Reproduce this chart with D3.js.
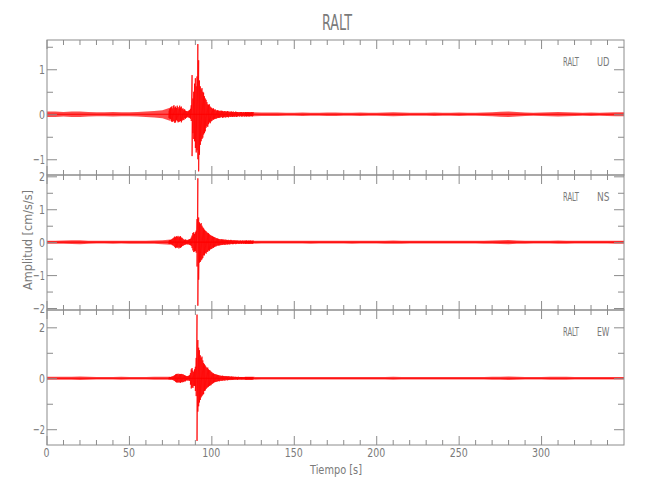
<!DOCTYPE html>
<html><head><meta charset="utf-8">
<script src="https://cdn.jsdelivr.net/npm/d3@7"></script>
<style>body{margin:0;background:#fff}svg{display:block}</style>
</head><body><svg id="c" width="650" height="500"></svg>
<script>
// ---------- data ----------
const title = "RALT";
const station = "RALT";
const components = ["UD", "NS", "EW"];
const xLabel = "Tiempo [s]";
const yLabel = "Amplitud [cm/s/s]";
const xDomain = [0, 350];
const xMajor = [0, 50, 100, 150, 200, 250, 300];
const xMinor = [10,20,30,40,60,70,80,90,110,120,130,140,160,170,180,190,210,220,230,240,260,270,280,290,310,320,330,340];
const yDomains = [[-1.35, 1.65], [-2.06, 2.04], [-2.62, 2.68]];
const yMajor = [[-1, 0, 1], [-2, -1, 0, 1, 2], [-2, 0, 2]];
const yMinor = [[-0.5, 0.5, 1.5], [-1.5, -0.5, 0.5, 1.5], [-1, 1]];

// background noise envelope (half-amplitude) every 5 s, t = 0..350
const baseT = d3.range(0, 351, 5);
const udBase = [.06,.06,.05,.06,.06,.05,.045,.045,.05,.045, .045,.05,.06,.07,.09,.15,.15,.07,.50,.40,
                .14,.08,.06,.05,.045,.045,.04,.04,.04,.035, .035,.04,.035,.035,.04,.04,.035,.035,.04,.035,
                .035,.04,.045,.04,.035,.035,.035,.04,.035,.035, .04,.035,.035,.04,.045,.055,.06,.05,.04,.035,
                .04,.045,.05,.045,.04,.035,.04,.035,.04,.045, .045];
const nsBase = [.045,.045,.05,.055,.06,.045,.04,.04,.045,.04, .045,.045,.045,.05,.06,.08,.17,.07,.30,.40,
                .19,.09,.07,.06,.05,.045,.04,.04,.04,.04, .04,.04,.045,.04,.04,.04,.04,.045,.04,.04,
                .04,.045,.05,.045,.04,.04,.04,.04,.04,.04, .04,.04,.04,.045,.05,.055,.065,.05,.045,.04,
                .04,.04,.05,.045,.04,.04,.04,.04,.04,.045, .045];
const ewBase = [.055,.055,.055,.055,.07,.055,.05,.05,.05,.055, .05,.05,.05,.055,.055,.06,.16,.08,.50,.60,
                .24,.10,.07,.06,.055,.055,.05,.05,.05,.05, .05,.05,.05,.05,.05,.05,.05,.05,.05,.05,
                .05,.05,.055,.05,.05,.05,.05,.05,.05,.05, .05,.05,.05,.05,.055,.06,.07,.06,.05,.05,
                .05,.055,.06,.055,.05,.05,.05,.05,.05,.05, .05];

// event detail: peak (hi) and trough (lo) every 0.5 s, t = 74..125
const detT = d3.range(74, 125.001, 0.5);
const udHi = [.08,.12,.15,.17,.13,.18,.20,.15,.17,.14, .19,.16,.13,.19,.15,.17,.12,.13,.10,.11,
              .08,.07,.07,.06,.08,.09,.12,.20,.87,.35, .50,.68,.80,.62,.84,1.56,1.20,.75,.62,.55,
              .58,.50,.48,.40,.35,.32,.27,.22,.21,.22, .17,.15,.14,.12,.13,.10,.11,.09,.08,.09,
              .08,.07,.08,
              .07,.08,.07,.06,.07,.07,.06,.06,.07,.06, .06,.05,.06,.06,.05,.06,.05,.05,.06,.05,
              .05,.05,.04,.05,.05,.05,.04,.05,.05,.04, .05,.04,.05,.04,.05,.04,.04,.05,.04,.05];
const udLo = [-.08,-.10,-.11,-.16,-.17,-.15,-.16,-.19,-.18,-.13, -.15,-.18,-.17,-.16,-.15,-.18,-.14,-.12,-.13,-.09,
              -.10,-.08,-.06,-.07,-.07,-.08,-.10,-.15,-.93,-.42, -.55,-.60,-.75,-.85,-.80,-1.00,-1.27,-.90,-.68,-.60,
              -.55,-.52,-.45,-.42,-.38,-.30,-.26,-.28,-.22,-.18, -.20,-.16,-.15,-.12,-.12,-.11,-.10,-.10,-.09,-.08,
              -.08,-.08,-.07,
              -.07,-.06,-.08,-.07,-.06,-.07,-.07,-.06,-.06,-.07, -.05,-.06,-.06,-.05,-.06,-.05,-.06,-.05,-.05,-.06,
              -.05,-.04,-.05,-.05,-.04,-.05,-.05,-.04,-.05,-.05, -.04,-.05,-.04,-.05,-.04,-.05,-.04,-.04,-.05,-.04];
const nsHi = [.05,.06,.07,.08,.10,.12,.14,.17,.15,.18, .16,.19,.15,.17,.18,.14,.13,.10,.08,.07,
              .08,.07,.06,.07,.08,.09,.10,.14,.20,.28, .30,.25,.30,.35,.70,1.94,.75,.60,.55,.58,
              .50,.45,.42,.38,.35,.33,.30,.28,.27,.24, .22,.20,.19,.18,.16,.15,.14,.12,.12,.11,
              .10,.09,.09,
              .08,.09,.08,.08,.07,.08,.07,.07,.06,.07, .06,.06,.07,.06,.05,.06,.05,.06,.05,.05,
              .05,.05,.04,.05,.05,.04,.05,.05,.04,.05, .04,.05,.04,.04,.05,.04,.05,.04,.04,.05];
const nsLo = [-.05,-.05,-.06,-.07,-.09,-.10,-.12,-.15,-.18,-.16, -.17,-.15,-.19,-.16,-.17,-.15,-.12,-.11,-.09,-.08,
              -.07,-.06,-.07,-.06,-.07,-.08,-.09,-.12,-.18,-.25, -.30,-.28,-.27,-.32,-.74,-1.93,-1.14,-.62,-.60,-.55,
              -.52,-.48,-.40,-.40,-.33,-.35,-.30,-.29,-.25,-.26, -.22,-.21,-.20,-.17,-.17,-.15,-.13,-.13,-.11,-.10,
              -.10,-.10,-.09,
              -.09,-.08,-.08,-.07,-.08,-.07,-.08,-.06,-.07,-.06, -.07,-.06,-.06,-.05,-.06,-.06,-.05,-.05,-.06,-.05,
              -.04,-.05,-.05,-.05,-.04,-.05,-.04,-.05,-.05,-.04, -.05,-.04,-.04,-.05,-.04,-.05,-.04,-.04,-.05,-.04];
const ewHi = [.04,.05,.05,.06,.07,.08,.10,.12,.15,.17, .16,.18,.15,.17,.16,.17,.15,.16,.13,.12,
              .10,.09,.08,.09,.10,.12,.20,.35,.40,.30, .25,.35,.45,.80,2.50,1.50,1.20,1.10,.90,.80,
              .85,.70,.60,.55,.50,.45,.40,.42,.35,.32, .30,.26,.24,.20,.19,.17,.16,.15,.14,.13,
              .12,.11,.10,
              .10,.09,.10,.09,.08,.09,.08,.08,.07,.08, .07,.07,.06,.07,.06,.06,.06,.05,.06,.05,
              .05,.06,.05,.05,.05,.05,.05,.05,.05,.05, .05,.05,.05,.05,.05,.05,.05,.05,.05,.05];
const ewLo = [-.04,-.04,-.05,-.05,-.06,-.07,-.09,-.11,-.14,-.16, -.17,-.15,-.17,-.16,-.18,-.15,-.16,-.14,-.15,-.11,
              -.12,-.08,-.09,-.08,-.09,-.10,-.25,-.40,-.35,-.38, -.30,-.30,-.50,-.70,-2.46,-1.31,-1.10,-.95,-.85,-.75,
              -.70,-.65,-.62,-.50,-.48,-.42,-.38,-.35,-.33,-.30, -.28,-.27,-.22,-.21,-.18,-.16,-.15,-.14,-.13,-.12,
              -.11,-.12,-.10,
              -.09,-.10,-.09,-.08,-.09,-.08,-.08,-.07,-.08,-.07, -.07,-.06,-.07,-.06,-.06,-.06,-.05,-.06,-.05,-.05,
              -.06,-.05,-.05,-.05,-.05,-.05,-.05,-.05,-.05,-.05, -.05,-.05,-.05,-.05,-.05,-.05,-.05,-.05,-.05,-.05];

const traces = [
  {base: udBase, hi: udHi, lo: udLo},
  {base: nsBase, hi: nsHi, lo: nsLo},
  {base: ewBase, hi: ewHi, lo: ewLo}
];

// ---------- drawing ----------
const svg = d3.select("#c");
const L = 47, R = 624, T0 = 40, PH = 135;
const axisCol = "#8c8c8c", textCol = "#7a7a7a";
const FONT = "'Liberation Sans Narrow','DejaVu Sans Condensed','DejaVu Sans',sans-serif";
const x = d3.scaleLinear().domain(xDomain).range([L, R]);
const fmt = d3.format("d");
const labelW = s => s.length * 6;

svg.append("rect").attr("width", 650).attr("height", 500).attr("fill", "#fff");

traces.forEach((tr, i) => {
  const top = T0 + i * PH, bot = top + PH;
  const y = d3.scaleLinear().domain(yDomains[i]).range([bot, top]);
  const g = svg.append("g");

  // background noise band
  const band = d3.area()
    .defined((d, k) => baseT[k] <= 75 || baseT[k] >= 120)
    .x((d, k) => x(baseT[k]))
    .y0(d => y(-d)).y1(d => y(d));
  g.append("path").datum(tr.base).attr("d", band)
    .attr("fill", "#ff0000").attr("fill-opacity", 0.7);
  g.append("line").attr("x1", x(xDomain[0])).attr("x2", x(xDomain[1]))
    .attr("y1", y(0)).attr("y2", y(0)).attr("stroke", "#ff0000").attr("stroke-width", 1.2);

  // event detail: zigzag through peaks and troughs
  const pts = [];
  detT.forEach((t, k) => { pts.push([x(t), y(tr.hi[k])]); pts.push([x(t), y(tr.lo[k])]); });
  g.append("path").attr("d", d3.line()(pts))
    .attr("fill", "none").attr("stroke", "#ff0000").attr("stroke-width", 0.8);

  // frame
  svg.append("rect").attr("x", L).attr("y", top).attr("width", R - L).attr("height", PH)
    .attr("fill", "none").attr("stroke", axisCol).attr("stroke-width", 1);

  // x ticks top & bottom (inward)
  const xt = svg.append("g").attr("stroke", axisCol).attr("stroke-width", 1);
  [[xMajor, 9], [xMinor, 5]].forEach(([vals, len]) => {
    vals.forEach(v => {
      xt.append("line").attr("x1", x(v)).attr("x2", x(v)).attr("y1", top).attr("y2", top + len);
      xt.append("line").attr("x1", x(v)).attr("x2", x(v)).attr("y1", bot).attr("y2", bot - len);
    });
  });

  // y axis left (labels + inward ticks)
  const ax = svg.append("g").attr("transform", `translate(${L},0)`)
    .call(d3.axisLeft(y).tickValues(yMajor[i]).tickFormat(fmt).tickSizeInner(-10).tickSizeOuter(0).tickPadding(2));
  ax.select(".domain").remove();
  ax.selectAll("line").attr("stroke", axisCol);
  ax.selectAll("text").attr("fill", textCol).attr("font-family", FONT).attr("font-size", 13)
    .attr("textLength", d => labelW(fmt(d))).attr("lengthAdjust", "spacingAndGlyphs");
  const axm = svg.append("g").attr("transform", `translate(${L},0)`)
    .call(d3.axisLeft(y).tickValues(yMinor[i]).tickSizeInner(-6).tickSizeOuter(0).tickFormat(""));
  axm.select(".domain").remove();
  axm.selectAll("line").attr("stroke", axisCol);

  // right side inward ticks
  const rt = svg.append("g").attr("transform", `translate(${R},0)`)
    .call(d3.axisRight(y).tickValues(yMajor[i]).tickSizeInner(-10).tickSizeOuter(0).tickFormat(""));
  rt.select(".domain").remove();
  rt.selectAll("line").attr("stroke", axisCol);
  const rtm = svg.append("g").attr("transform", `translate(${R},0)`)
    .call(d3.axisRight(y).tickValues(yMinor[i]).tickSizeInner(-6).tickSizeOuter(0).tickFormat(""));
  rtm.select(".domain").remove();
  rtm.selectAll("line").attr("stroke", axisCol);

  // panel label
  svg.append("text").attr("x", 563).attr("y", top + 26).text(station)
    .attr("fill", textCol).attr("font-family", FONT).attr("font-size", 12.5)
    .attr("textLength", 16).attr("lengthAdjust", "spacingAndGlyphs");
  svg.append("text").attr("x", 597).attr("y", top + 26).text(components[i])
    .attr("fill", textCol).attr("font-family", FONT).attr("font-size", 12.5)
    .attr("textLength", 12.5).attr("lengthAdjust", "spacingAndGlyphs");
});

// x axis labels on bottom panel
const bottomY = T0 + 3 * PH;
const xa = svg.append("g").attr("transform", `translate(0,${bottomY})`)
  .call(d3.axisBottom(x).tickValues(xMajor).tickFormat(fmt).tickSize(0).tickPadding(3));
xa.select(".domain").remove();
xa.selectAll("text").attr("fill", textCol).attr("font-family", FONT).attr("font-size", 13).attr("dx", -1)
  .attr("textLength", d => labelW(fmt(d))).attr("lengthAdjust", "spacingAndGlyphs");

// titles
svg.append("text").attr("x", 337).attr("y", 30).attr("text-anchor", "middle").text(title)
  .attr("fill", textCol).attr("font-family", FONT).attr("font-size", 21)
  .attr("textLength", 30).attr("lengthAdjust", "spacingAndGlyphs");
svg.append("text").attr("x", 336).attr("y", 474).attr("text-anchor", "middle").text(xLabel)
  .attr("fill", textCol).attr("font-family", FONT).attr("font-size", 13)
  .attr("textLength", 52).attr("lengthAdjust", "spacingAndGlyphs");
svg.append("text").attr("transform", "translate(32,240) rotate(-90)").attr("text-anchor", "middle").text(yLabel)
  .attr("fill", textCol).attr("font-family", FONT).attr("font-size", 13)
  .attr("textLength", 100).attr("lengthAdjust", "spacingAndGlyphs");
</script>
</body></html>
